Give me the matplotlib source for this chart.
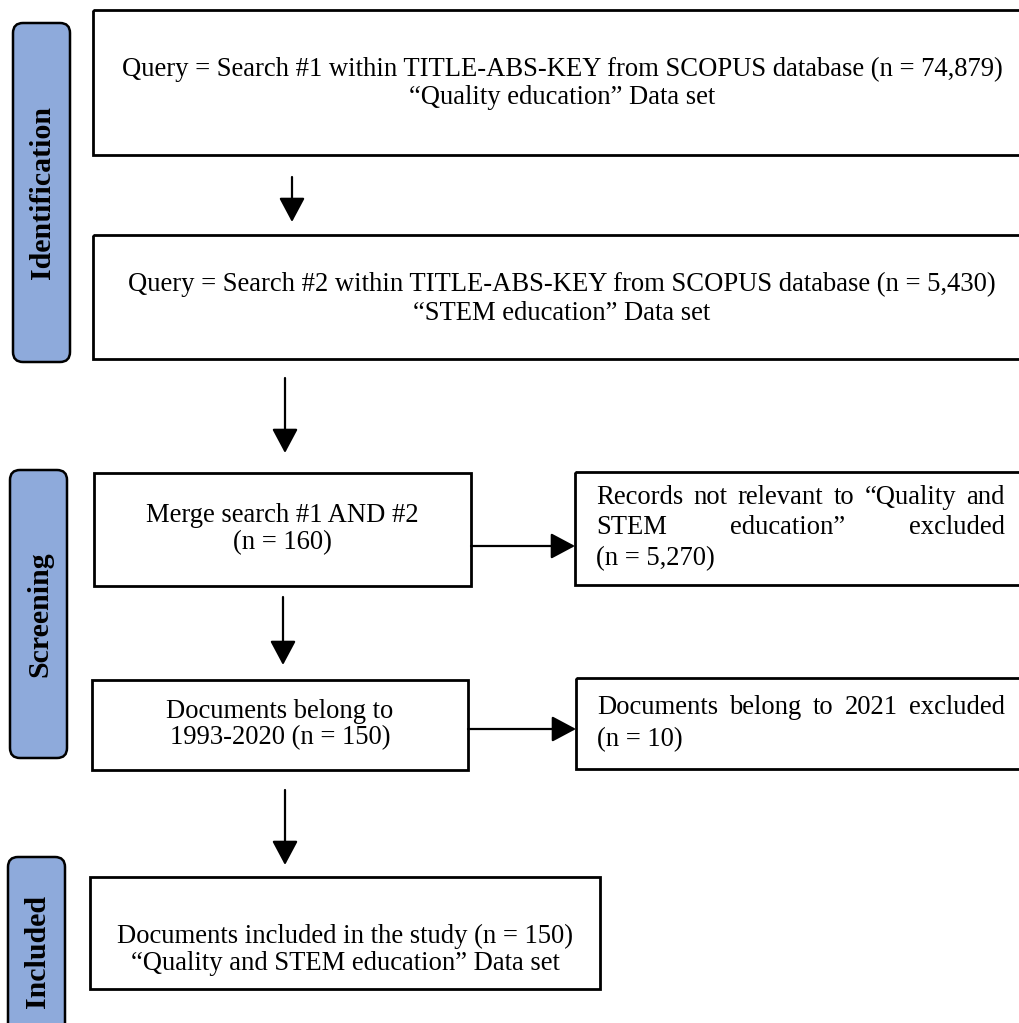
import matplotlib.pyplot as plt
from matplotlib.patches import Rectangle, FancyBboxPatch, FancyArrowPatch

plt.rcParams['font.family'] = ['Liberation Serif', 'DejaVu Serif']

# stage labels on the left
stages = ['Identification', 'Screening', 'Included']

# box texts
box1_lines = ['Query = Search #1 within TITLE-ABS-KEY from SCOPUS database (n = 74,879)',
              '\u201cQuality education\u201d Data set']
box2_lines = ['Query = Search #2 within TITLE-ABS-KEY from SCOPUS database (n = 5,430)',
              '\u201cSTEM education\u201d Data set']
merge_lines = ['Merge search #1 AND #2', '(n = 160)']
docs_lines = ['Documents belong to', '1993-2020 (n = 150)']
incl_lines = ['Documents included in the study (n = 150)',
              '\u201cQuality and STEM education\u201d Data set']
excl1_lines = ['Records not relevant to \u201cQuality and',
               'STEM education\u201d excluded', '(n = 5,270)']
excl2_lines = ['Documents belong to 2021 excluded', '(n = 10)']

W, H = 1019, 1023
fig = plt.figure(figsize=(W / 100, H / 100), dpi=100)
ax = fig.add_axes([0, 0, 1, 1])
ax.set_xlim(0, W)
ax.set_ylim(H, 0)
ax.axis('off')

FS = 19.2
FSB = 21.5
blue = '#8eaadb'


def box(x0, y0, x1, y1):
    ax.add_patch(Rectangle((x0, y0), x1 - x0, y1 - y0, fill=False,
                           edgecolor='black', lw=2))


def stage(x0, y0, x1, y1, label):
    ax.add_patch(FancyBboxPatch((x0 + 10, y0 + 10), x1 - x0 - 20, y1 - y0 - 20,
                                boxstyle='round,pad=10', facecolor=blue,
                                edgecolor='black', lw=1.8))
    ax.text((x0 + x1) / 2 + 1, (y0 + y1) / 2, label, rotation=90, ha='center',
            va='center', fontsize=FSB, fontweight='bold')


def centered(cx, ys, lines):
    for y, t in zip(ys, lines):
        ax.text(cx, y, t, ha='center', va='center', fontsize=FS)


def arrow(x0, y0, x1, y1):
    ax.add_patch(FancyArrowPatch((x0, y0), (x1, y1),
                                 arrowstyle='-|>,head_length=0.75,head_width=0.4',
                                 mutation_scale=20, lw=1.6, color='black',
                                 shrinkA=0, shrinkB=0))


renderer = fig.canvas.get_renderer()


def justified(x0, x1, y, line):
    words = line.split()
    objs = [ax.text(0, y, w, ha='left', va='center', fontsize=FS) for w in words]
    widths = [o.get_window_extent(renderer).width for o in objs]
    gap = (x1 - x0 - sum(widths)) / (len(words) - 1)
    x = x0
    for o, w in zip(objs, widths):
        o.set_x(x)
        x += w + gap


# left stage bars
stage(13, 23, 70, 362, stages[0])
stage(10, 470, 67, 758, stages[1])
stage(8, 857, 65, 1045, stages[2])

# identification boxes
box(93, 10, 1030, 155)
centered(562, [69, 98], box1_lines)
arrow(292, 177, 292, 222)

box(93, 235, 1030, 359)
centered(562, [284, 313], box2_lines)
arrow(285, 378, 285, 453)

# screening boxes
box(94, 473, 471, 586)
centered(282, [516, 543], merge_lines)
arrow(471, 546, 575, 546)

box(575, 472, 1030, 585)
justified(596, 1005, 498, excl1_lines[0])
justified(596, 1005, 528, excl1_lines[1])
ax.text(596, 559, excl1_lines[2], ha='left', va='center', fontsize=FS)

arrow(283, 597, 283, 665)

box(92, 680, 468, 770)
centered(280, [711, 738], docs_lines)
arrow(468, 729, 576, 729)

box(576, 678, 1030, 769)
justified(597, 1005, 708, excl2_lines[0])
ax.text(597, 740, excl2_lines[1], ha='left', va='center', fontsize=FS)

arrow(285, 790, 285, 865)

# included box
box(90, 877, 600, 989)
centered(345, [936, 963], incl_lines)

fig.savefig('out.png', dpi=100)
